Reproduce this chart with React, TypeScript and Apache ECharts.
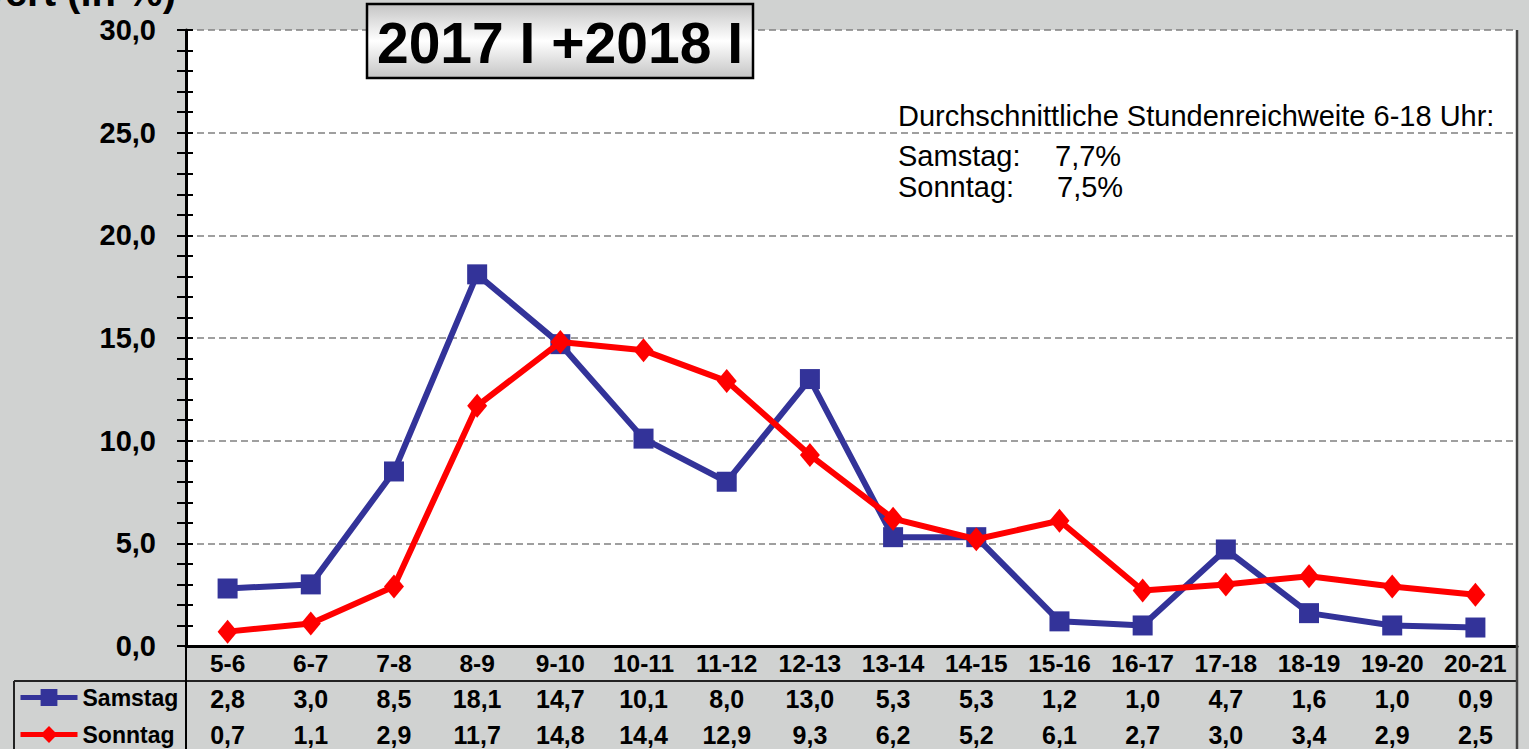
import React, { useEffect, useRef } from "react";
import * as echarts from "echarts";

const categories = ["5-6", "6-7", "7-8", "8-9", "9-10", "10-11", "11-12", "12-13", "13-14", "14-15", "15-16", "16-17", "17-18", "18-19", "19-20", "20-21"];
const samstag = [2.8, 3.0, 8.5, 18.1, 14.7, 10.1, 8.0, 13.0, 5.3, 5.3, 1.2, 1.0, 4.7, 1.6, 1.0, 0.9];
const sonntag = [0.7, 1.1, 2.9, 11.7, 14.8, 14.4, 12.9, 9.3, 6.2, 5.2, 6.1, 2.7, 3.0, 3.4, 2.9, 2.5];
const seriesNames = ["Samstag", "Sonntag"];
const titleText = "2017 I +2018 I";
const axisTitle = "Wert (in %)";
const noteLines = ["Durchschnittliche Stundenreichweite 6-18 Uhr:", "Samstag:", "Sonntag:"];
const noteValues = ["7,7%", "7,5%"];

const FONT = "'Liberation Sans', Arial, Helvetica, sans-serif";
const fmt = (v: number) => v.toFixed(1).replace(".", ",");

export default function App() {
  const ref = useRef<HTMLDivElement>(null);
  useEffect(() => {
    if (!ref.current) return;
    const chart = echarts.init(ref.current, undefined, { renderer: "svg" });
    const gridLeft = 186, gridTop = 30, gridRight = 1517, gridBottom = 646;
    const yCommon = {
      type: "value",
      min: 0,
      max: 30,
      interval: 5,
    };
    const legendCommon = {
      orient: "horizontal",
      left: 18,
      itemWidth: 57,
      itemHeight: 21,
      padding: 0,
      lineStyle: { width: 5 },
      textStyle: { fontFamily: FONT, fontSize: 23, fontWeight: "bold", color: "#000" },
    };
    chart.setOption({
      animation: false,
      backgroundColor: "#d0d2d1",
      textStyle: { fontFamily: FONT },
      grid: {
        left: gridLeft,
        top: gridTop,
        width: gridRight - gridLeft,
        height: gridBottom - gridTop,
        show: true,
        backgroundColor: "#ffffff",
        borderWidth: 0,
      },
      legend: [
        { ...legendCommon, top: 686, data: [seriesNames[0]] },
        { ...legendCommon, top: 723, data: [seriesNames[1]] },
      ],
      xAxis: {
        type: "category",
        data: categories,
        boundaryGap: true,
        axisLine: { show: true, lineStyle: { color: "#000", width: 3 } },
        axisTick: { show: false },
        splitLine: { show: false },
        axisLabel: {
          margin: 0,
          interval: 0,
          formatter: (value: string, index: number) =>
            `{c|${value}}\n{v|${fmt(samstag[index])}}\n{v|${fmt(sonntag[index])}}`,
          rich: {
            c: { fontFamily: FONT, fontSize: 24.5, fontWeight: "bold", color: "#000", lineHeight: 35 },
            v: { fontFamily: FONT, fontSize: 25, fontWeight: "bold", color: "#000", lineHeight: 36 },
          },
        },
      },
      yAxis: [
        {
          ...yCommon,
          axisLine: { show: true, lineStyle: { color: "#000", width: 3 } },
          axisTick: { show: true, inside: false, length: 9, lineStyle: { color: "#000", width: 2 } },
          minorTick: { show: true, splitNumber: 5, length: 9, lineStyle: { color: "#000", width: 2 } },
          splitLine: { show: true, lineStyle: { color: "#808080", width: 1.5, type: [7, 4] } },
          axisLabel: {
            margin: 30,
            formatter: (v: number) => fmt(v),
            fontFamily: FONT,
            fontSize: 29,
            fontWeight: "bold",
            color: "#000",
          },
        },
        {
          ...yCommon,
          position: "left",
          axisLine: { show: false },
          axisTick: { show: true, inside: true, length: 7, lineStyle: { color: "#000", width: 2 } },
          minorTick: { show: true, splitNumber: 5, length: 7, lineStyle: { color: "#000", width: 2 } },
          splitLine: { show: false },
          axisLabel: { show: false },
        },
      ],
      series: [
        {
          name: seriesNames[0],
          type: "line",
          data: samstag,
          yAxisIndex: 0,
          symbol: "rect",
          symbolSize: 20,
          color: "#333399",
          lineStyle: { color: "#333399", width: 6 },
          itemStyle: { color: "#333399" },
          z: 3,
        },
        {
          name: seriesNames[1],
          type: "line",
          data: sonntag,
          yAxisIndex: 0,
          symbol: "diamond",
          symbolSize: [20, 24],
          color: "#ff0000",
          lineStyle: { color: "#ff0000", width: 6 },
          itemStyle: { color: "#ff0000" },
          z: 4,
        },
      ],
      graphic: [
        // table lines
        { type: "line", z: 10, shape: { x1: 14, y1: 681, x2: gridRight, y2: 681 }, style: { stroke: "#222", lineWidth: 2 } },
        { type: "line", z: 10, shape: { x1: 14, y1: 681, x2: 14, y2: 749 }, style: { stroke: "#222", lineWidth: 2 } },
        { type: "line", z: 10, shape: { x1: gridLeft, y1: 646, x2: gridLeft, y2: 749 }, style: { stroke: "#000", lineWidth: 2 } },
        { type: "line", z: 10, shape: { x1: gridRight, y1: gridTop, x2: gridRight, y2: 749 }, style: { stroke: "#444", lineWidth: 2.5 } },
        // axis title (cut at top)
        {
          type: "text",
          z: 10,
          x: 176,
          y: 12,
          style: { text: axisTitle, font: `bold 40px ${FONT}`, fill: "#000", align: "right", verticalAlign: "bottom" },
        },
        // title box
        {
          type: "rect",
          z: 20,
          shape: { x: 367, y: 4, width: 386, height: 74 },
          style: {
            fill: new echarts.graphic.LinearGradient(0, 0, 0, 1, [
              { offset: 0, color: "#c4c4c4" },
              { offset: 0.5, color: "#ffffff" },
              { offset: 1, color: "#c4c4c4" },
            ]),
            stroke: "#000",
            lineWidth: 2.5,
          },
        },
        {
          type: "text",
          z: 21,
          x: 560,
          y: 43,
          style: { text: titleText, font: `bold 57px ${FONT}`, fill: "#000", align: "center", verticalAlign: "middle" },
        },
        // note
        { type: "text", z: 10, x: 898, y: 116, style: { text: noteLines[0], font: `29px ${FONT}`, fill: "#000", verticalAlign: "middle" } },
        { type: "text", z: 10, x: 898, y: 156, style: { text: noteLines[1], font: `29px ${FONT}`, fill: "#000", verticalAlign: "middle" } },
        { type: "text", z: 10, x: 1055, y: 156, style: { text: noteValues[0], font: `29px ${FONT}`, fill: "#000", verticalAlign: "middle" } },
        { type: "text", z: 10, x: 898, y: 187, style: { text: noteLines[2], font: `29px ${FONT}`, fill: "#000", verticalAlign: "middle" } },
        { type: "text", z: 10, x: 1057, y: 187, style: { text: noteValues[1], font: `29px ${FONT}`, fill: "#000", verticalAlign: "middle" } },
      ],
    });
    return () => chart.dispose();
  }, []);
  return <div ref={ref} style={{ width: 1529, height: 749, position: "fixed", left: 0, top: 0 }} />;
}
